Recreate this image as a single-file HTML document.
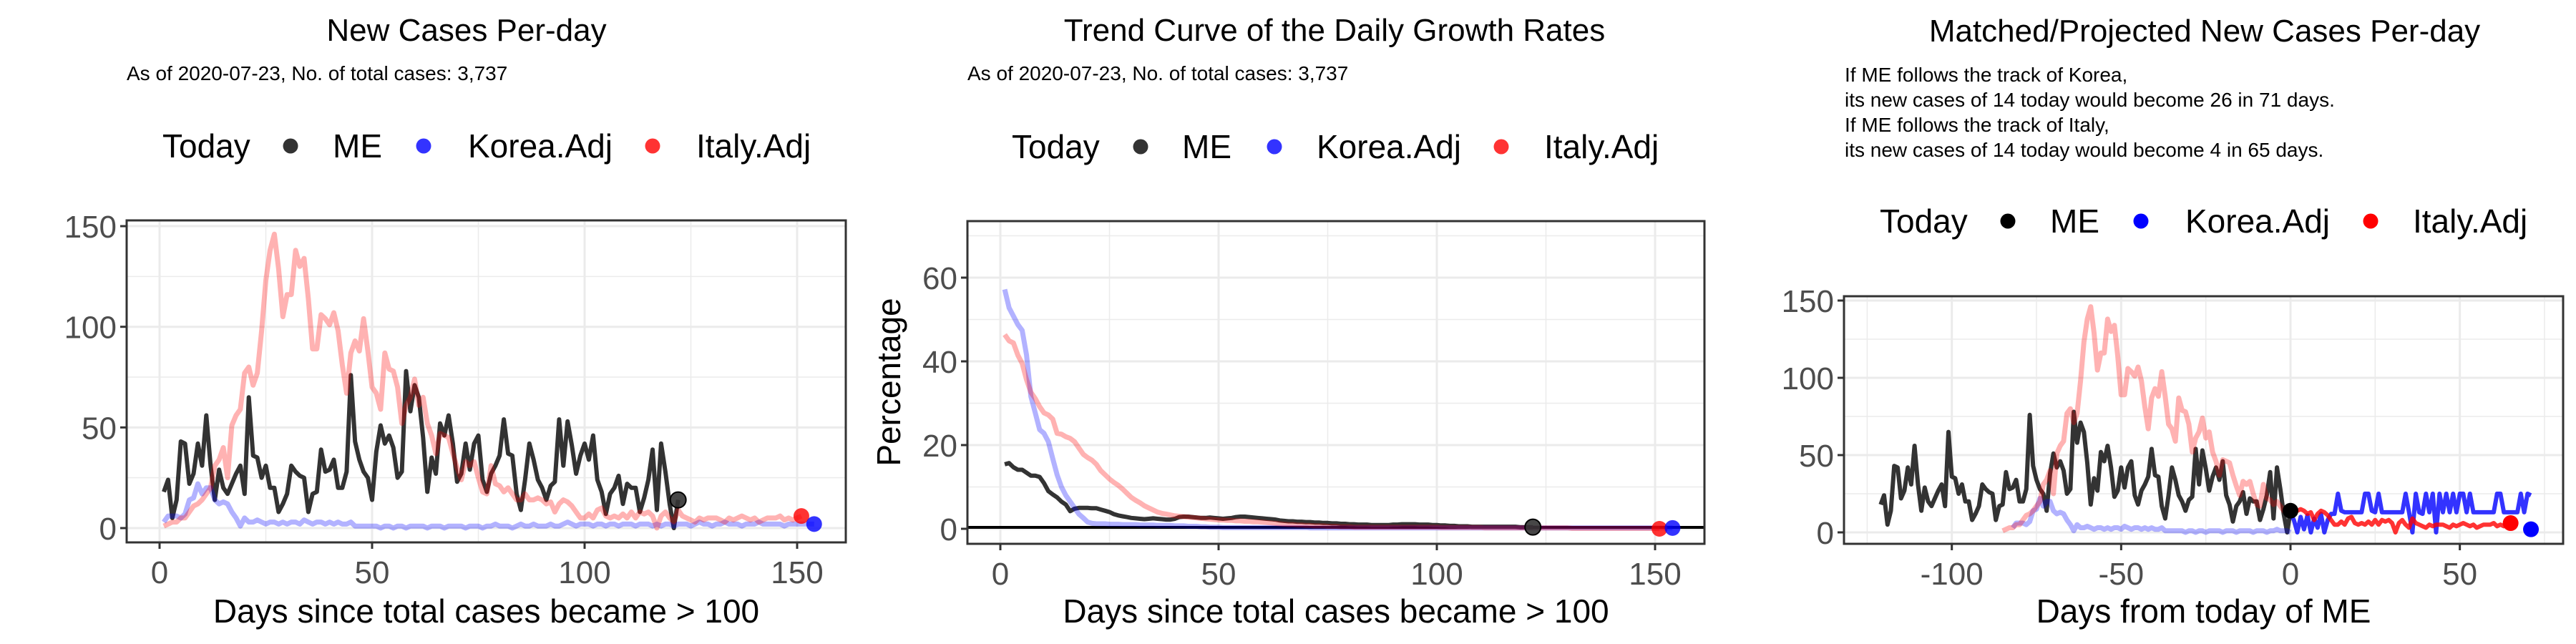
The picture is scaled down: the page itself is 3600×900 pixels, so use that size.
<!DOCTYPE html>
<html><head><meta charset="utf-8"><style>
html,body{margin:0;padding:0;background:#fff;}
svg{display:block;font-family:"Liberation Sans",Arial,sans-serif;}
</style></head><body>
<svg id="chart" width="3600" height="900" viewBox="0 0 3600 900" xmlns="http://www.w3.org/2000/svg">
<rect x="0" y="0" width="3600" height="900" fill="#fff"/>
<!-- Panel 1 header -->
<text x="652" y="57" font-size="44" text-anchor="middle" fill="#000">New Cases Per-day</text>
<text x="177" y="112" font-size="28" fill="#000">As of 2020-07-23, No. of total cases: 3,737</text>
<g font-size="46">
<text x="227" y="220">Today</text>
<circle cx="406" cy="204" r="10.5" fill="#000" fill-opacity="0.8"/>
<text x="465" y="220">ME</text>
<circle cx="592" cy="204" r="10.5" fill="#00f" fill-opacity="0.8"/>
<text x="654" y="220">Korea.Adj</text>
<circle cx="912" cy="204" r="10.5" fill="#f00" fill-opacity="0.8"/>
<text x="973" y="220">Italy.Adj</text>
</g>
<!-- Panel 2 header -->
<text x="1865" y="57" font-size="44" text-anchor="middle" fill="#000">Trend Curve of the Daily Growth Rates</text>
<text x="1352" y="112" font-size="28" fill="#000">As of 2020-07-23, No. of total cases: 3,737</text>
<g font-size="46">
<text x="1414" y="221">Today</text>
<circle cx="1594" cy="205" r="10.5" fill="#000" fill-opacity="0.8"/>
<text x="1652" y="221">ME</text>
<circle cx="1781" cy="205" r="10.5" fill="#00f" fill-opacity="0.8"/>
<text x="1840" y="221">Korea.Adj</text>
<circle cx="2098" cy="205" r="10.5" fill="#f00" fill-opacity="0.8"/>
<text x="2158" y="221">Italy.Adj</text>
</g>
<!-- Panel 3 header -->
<text x="3081" y="58" font-size="44" text-anchor="middle" fill="#000">Matched/Projected New Cases Per-day</text>
<g font-size="28" fill="#000">
<text x="2578" y="114">If ME follows the track of Korea,</text>
<text x="2578" y="149">its new cases of 14 today would become 26 in 71 days.</text>
<text x="2578" y="184">If ME follows the track of Italy,</text>
<text x="2578" y="219">its new cases of 14 today would become 4 in 65 days.</text>
</g>
<g font-size="46">
<text x="2627" y="325">Today</text>
<circle cx="2806" cy="309" r="10.5" fill="#000"/>
<text x="2865" y="325">ME</text>
<circle cx="2992" cy="309" r="10.5" fill="#00f"/>
<text x="3054" y="325">Korea.Adj</text>
<circle cx="3313" cy="309" r="10.5" fill="#f00"/>
<text x="3372" y="325">Italy.Adj</text>
</g>
<text x="1242" y="534" font-size="46" text-anchor="middle" transform="rotate(-90 1242 534)" dy="16">Percentage</text>
</svg>
<script>
// ---- Data ----
const meCases = [18,24,5,14,43,42,22,27,42,31,56,31,14,29,20,17,22,27,31,17,65,36,35,25,31,20,20,8,12,17,31,28,26,25,8,17,18,39,28,29,34,20,20,28,76,43,34,28,25,14,38,51,42,46,40,25,28,78,58,71,65,45,18,35,27,52,46,56,42,23,27,42,29,42,46,24,18,27,31,36,54,37,36,17,9,24,42,34,24,20,14,21,23,54,31,53,41,27,36,42,34,46,24,18,7,17,20,26,12,22,20,20,8,15,24,39,9,42,28,12,0,14];
const italyCases = [1,2,3,3,5,5,8,11,12,14,17,20,31,34,40,25,51,56,59,77,80,71,77,98,123,138,146,129,105,116,116,138,130,134,114,89,89,106,104,101,107,98,81,67,87,93,88,104,88,70,67,59,87,79,78,70,52,61,65,74,61,65,52,46,37,47,46,45,37,30,24,33,31,33,25,18,17,31,22,21,18,20,17,14,14,17,14,14,15,14,12,13,8,12,14,13,11,8,5,5,7,5,9,10,6,5,6,5,7,5,8,5,8,7,8,6,0,6,8,5,3,9,6,5,4,3,5,4,5,5,5,4,3,5,4,5,6,5,4,5,3,4,5,5,5,6,4,5,4,5,6];
const koreaCases = [3,6,6,6,5,7,14,15,22,17,20,20,14,12,13,12,8,5,1,5,3,3,4,3,2,3,3,2,3,2,3,3,2,4,3,2,3,3,2,3,2,3,2,2,3,1,1,1,1,1,1,0,1,1,0,1,1,0,1,1,1,1,0,1,1,1,0,1,1,1,1,0,1,1,1,0,1,1,2,1,1,1,0,1,2,1,1,2,1,1,1,2,1,1,2,3,2,1,2,2,2,1,2,2,1,2,2,1,2,2,2,1,2,2,2,1,2,1,2,2,1,2,2,2,1,2,3,2,2,1,2,2,3,2,2,2,1,2,2,2,3,2,2,2,2,2,1,2,2,2,2,2,2,2];
const meGrowth = [15.4,15.7,14.7,14.1,14.1,13.4,12.7,12.7,12.4,10.9,9.0,8.2,7.5,6.5,5.8,4.2,4.8,5.0,5.0,5.0,4.9,4.9,4.6,4.3,4.0,3.5,3.2,3.0,2.8,2.6,2.5,2.4,2.3,2.4,2.5,2.4,2.3,2.2,2.2,2.4,2.8,2.9,2.9,2.8,2.7,2.6,2.6,2.7,2.6,2.5,2.4,2.5,2.6,2.8,2.9,2.9,2.8,2.7,2.6,2.5,2.4,2.3,2.2,2.0,1.9,1.8,1.8,1.7,1.7,1.6,1.6,1.5,1.5,1.4,1.4,1.3,1.3,1.2,1.2,1.1,1.1,1.0,1.0,1.0,0.9,0.9,0.9,0.9,0.9,1.0,1.0,1.1,1.1,1.1,1.1,1.0,1.0,1.0,0.9,0.9,0.8,0.8,0.7,0.7,0.6,0.6,0.6,0.5,0.5,0.5,0.5,0.5,0.5,0.5,0.5,0.5,0.5,0.5,0.4,0.4,0.4,0.4];
const koreaGrowth = [57.2,52.8,50.8,48.8,47.4,41.5,31.6,27.7,23.7,22.8,20.8,16.8,12.9,10.0,8.0,6.5,5.0,3.5,2.6,1.6,1.3,1.2,1.2,1.2,1.1,1.1,1.1,1.0,1.0,1.0,1.0,0.9,0.9,0.9,0.9,0.8,0.8,0.8,0.8,0.7,0.7,0.7,0.6,0.6,0.6,0.5,0.5,0.4,0.4,0.4,0.3,0.3,0.3,0.3,0.3,0.3,0.3,0.3,0.3,0.3,0.3,0.3,0.3,0.3,0.3,0.3,0.3,0.3,0.3,0.3,0.2,0.2,0.2,0.2,0.2,0.2,0.2,0.2,0.2,0.2,0.2,0.2,0.2,0.2,0.2,0.2,0.2,0.2,0.2,0.2,0.2,0.2,0.2,0.2,0.2,0.2,0.2,0.2,0.2,0.2,0.2,0.2,0.2,0.2,0.2,0.2,0.2,0.2,0.2,0.2,0.2,0.2,0.2,0.2,0.2,0.2,0.2,0.2,0.2,0.2,0.2,0.2,0.2,0.2,0.2,0.2,0.2,0.2,0.2,0.2,0.2,0.2,0.2,0.2,0.2,0.2,0.2,0.2,0.2,0.2,0.2,0.2,0.2,0.2,0.2,0.2,0.2,0.2,0.2,0.2,0.2,0.2,0.2,0.2];
const italyGrowth = [46.4,44.9,44.4,41.5,39.5,35.6,32.6,31.1,29.2,27.7,27.2,26.2,22.8,22.6,22.0,21.6,20.8,19.3,17.8,17.0,16.4,15.4,13.9,12.9,11.9,11.1,10.4,9.5,8.5,7.5,6.8,6.2,5.5,5.0,4.5,4.0,3.7,3.5,3.3,3.1,3.0,2.9,2.8,2.7,2.6,2.5,2.4,2.3,2.2,2.1,2.1,2.0,2.0,1.9,1.9,1.8,1.8,1.7,1.7,1.6,1.5,1.4,1.3,1.2,1.1,1.0,1.0,0.9,0.9,0.8,0.8,0.7,0.7,0.7,0.6,0.6,0.6,0.5,0.5,0.5,0.4,0.4,0.4,0.4,0.4,0.4,0.4,0.4,0.4,0.4,0.4,0.4,0.4,0.4,0.4,0.4,0.4,0.4,0.4,0.4,0.3,0.3,0.3,0.3,0.3,0.3,0.3,0.3,0.3,0.3,0.2,0.2,0.2,0.2,0.2,0.2,0.2,0.2,0.2,0.2,0.2,0.2,0.2,0.2,0.2,0.2,0.2,0.2,0.2,0.2,0.1,0.1,0.1,0.1,0.1,0.1,0.1,0.1,0.1,0.1,0.1,0.1,0.1,0.1,0.1,0.1,0.1,0.1,0.1,0.1,0.0];
const koreaProjection = [12,8,0,10,2,11,0,9,3,12,0,8,12,12,25,14,13,13,13,13,13,13,25,25,14,13,25,13,13,13,13,13,13,13,25,13,0,25,13,12,25,13,25,0,25,13,25,13,25,13,25,25,13,25,13,13,13,13,13,13,13,25,25,13,13,13,13,13,25,13,25,24];
const meOffset = 122, italyOffset = 86, koreaOffset = 83;
const todayKoreaP3 = 2, todayItalyP3 = 6;
const p1YTicks = [0,50,100,150], p1YMinor = [25,75,125], p1XTicks = [0,50,100,150], p1XMinor = [25,75,125];
const p2YTicks = [0,20,40,60], p2YMinor = [10,30,50,70], p2XTicks = [0,50,100,150], p2XMinor = [25,75,125];
const p3YTicks = [0,50,100,150], p3YMinor = [25,75,125], p3XTicks = [-100,-50,0,50], p3XMinor = [-125,-75,-25,25,75];
const p1XTitle = "Days since total cases became > 100", p2XTitle = "Days since total cases became > 100", p3XTitle = "Days from today of ME";

const NS = "http://www.w3.org/2000/svg";
const svg = document.getElementById('chart');
function mk(tag, attrs, parent){ const e=document.createElementNS(NS,tag); for(const k in attrs) e.setAttribute(k,attrs[k]); (parent||svg).appendChild(e); return e; }

function panel(cfg){
  const g = mk('g',{});
  
  
  const X = v => cfg.x0 + v*cfg.xs, Y = v => cfg.y0 - v*cfg.ys;
  const clipId = cfg.name+'-clip';
  const cp = mk('clipPath',{id:clipId},g);
  mk('rect',{x:cfg.L,y:cfg.T,width:cfg.R-cfg.L,height:cfg.B-cfg.T},cp);
  const grid = mk('g',{},g);
  
  
  cfg.yMinor.forEach(v=>mk('line',{x1:cfg.L,x2:cfg.R,y1:Y(v),y2:Y(v),stroke:'#ebebeb','stroke-width':1.5},grid));
  cfg.xMinor.forEach(v=>mk('line',{y1:cfg.T,y2:cfg.B,x1:X(v),x2:X(v),stroke:'#ebebeb','stroke-width':1.5},grid));
  cfg.yTicks.forEach(v=>mk('line',{x1:cfg.L,x2:cfg.R,y1:Y(v),y2:Y(v),stroke:'#ebebeb','stroke-width':3},grid));
  cfg.xTicks.forEach(v=>mk('line',{y1:cfg.T,y2:cfg.B,x1:X(v),x2:X(v),stroke:'#ebebeb','stroke-width':3},grid));
  const plot = mk('g',{'clip-path':'url(#'+clipId+')'},g);
  if(cfg.zeroLine){ const zl=mk('line',{x1:cfg.L,x2:cfg.R,y1:Y(0)-2,y2:Y(0)-2,stroke:'#000','stroke-width':4},plot);
      }
  cfg.series.forEach(s=>{
    const pts = s.vals.map((v,i)=>X(i+s.start).toFixed(1)+','+Y(v).toFixed(1)).join(' ');
    const pl = mk('polyline',{points:pts,fill:'none',stroke:s.color,'stroke-opacity':s.op,'stroke-width':s.w,'stroke-linejoin':'round'},plot);
    
    
  });
  cfg.points.forEach(p=>{
    const c = mk('circle',{cx:X(p.x),cy:Y(p.y),r:11,fill:p.color,'fill-opacity':p.op,stroke:p.stroke||'none','stroke-width':2},g);
    
    
  });
  const border = mk('rect',{x:cfg.L,y:cfg.T,width:cfg.R-cfg.L,height:cfg.B-cfg.T,fill:'none',stroke:'#333','stroke-width':3},g);
  
  
  cfg.yTicks.forEach(v=>{
    mk('line',{x1:cfg.L-9,x2:cfg.L,y1:Y(v),y2:Y(v),stroke:'#333','stroke-width':3},g);
    const t=mk('text',{x:cfg.L-14,y:Y(v)+16,'font-size':44,fill:'#4d4d4d','text-anchor':'end'},g);
    t.textContent=v;
    
    
  });
  cfg.xTicks.forEach(v=>{
    mk('line',{x1:X(v),x2:X(v),y1:cfg.B,y2:cfg.B+9,stroke:'#333','stroke-width':3},g);
    const t=mk('text',{x:X(v),y:cfg.B+57,'font-size':44,fill:'#4d4d4d','text-anchor':'middle'},g);
    t.textContent=v;
    
    
  });
  const xt=mk('text',{x:(cfg.L+cfg.R)/2,y:870,'font-size':46,fill:'#000','text-anchor':'middle'},g);
  xt.textContent=cfg.xTitle;
  
  
}

const LR='#ff0000', LB='#0000ff';
panel({name:'panel1-new-cases',L:177,R:1182,T:308,B:758,x0:223,xs:5.94,y0:738,ys:2.813,
  yTicks:p1YTicks,yMinor:p1YMinor,xTicks:p1XTicks,xMinor:p1XMinor,xTitle:p1XTitle,
  series:[{name:'me-line',vals:meCases,start:1,color:'#333',op:1,w:6},
          {name:'korea-line',vals:koreaCases,start:1,color:LB,op:0.3,w:7},
          {name:'italy-line',vals:italyCases,start:1,color:LR,op:0.3,w:7}],
  points:[{name:'me-today-point',x:meCases.length,y:meCases[meCases.length-1],color:'#333',op:0.9,stroke:'#000'},
          {name:'italy-today-point',x:italyCases.length,y:italyCases[italyCases.length-1],color:'#f00',op:0.8},
          {name:'korea-today-point',x:koreaCases.length,y:koreaCases[koreaCases.length-1],color:'#00f',op:0.8}]});

panel({name:'panel2-growth-rates',L:1352,R:2382,T:309,B:760,x0:1398,xs:6.1,y0:739,ys:5.85,zeroLine:true,
  yTicks:p2YTicks,yMinor:p2YMinor,xTicks:p2XTicks,xMinor:p2XMinor,xTitle:p2XTitle,
  series:[{name:'me-growth-line',vals:meGrowth,start:1,color:'#333',op:1,w:6},
          {name:'korea-growth-line',vals:koreaGrowth,start:1,color:LB,op:0.3,w:7},
          {name:'italy-growth-line',vals:italyGrowth,start:1,color:LR,op:0.3,w:7}],
  points:[{name:'me-today-point',x:meGrowth.length,y:meGrowth[meGrowth.length-1],color:'#333',op:0.9,stroke:'#000'},
          {name:'italy-today-point',x:italyGrowth.length,y:italyGrowth[italyGrowth.length-1],color:'#f00',op:0.8},
          {name:'korea-today-point',x:koreaGrowth.length,y:koreaGrowth[koreaGrowth.length-1],color:'#00f',op:0.8}]});

panel({name:'panel3-projected',L:2577,R:3582,T:414,B:760,x0:3201,xs:4.733,y0:744,ys:2.16,
  yTicks:p3YTicks,yMinor:p3YMinor,xTicks:p3XTicks,xMinor:p3XMinor,xTitle:p3XTitle,
  series:[{name:'me-line',vals:meCases,start:1-meOffset,color:'#333',op:1,w:6},
          {name:'korea-matched-line',vals:koreaCases.slice(0,koreaOffset),start:1-koreaOffset,color:LB,op:0.3,w:7},
          {name:'italy-matched-line',vals:italyCases.slice(0,italyOffset),start:1-italyOffset,color:LR,op:0.3,w:7},
          {name:'korea-projected-line',vals:koreaProjection,start:0,color:LB,op:0.8,w:6},
          {name:'italy-projected-line',vals:italyCases.slice(italyOffset-1),start:0,color:LR,op:0.8,w:6}],
  points:[{name:'me-today-point',x:0,y:meCases[meCases.length-1],color:'#000',op:1},
          {name:'italy-today-point',x:italyCases.length-italyOffset,y:todayItalyP3,color:'#f00',op:1},
          {name:'korea-today-point',x:koreaProjection.length-1,y:todayKoreaP3,color:'#00f',op:1}]});
</script>
</body></html>
